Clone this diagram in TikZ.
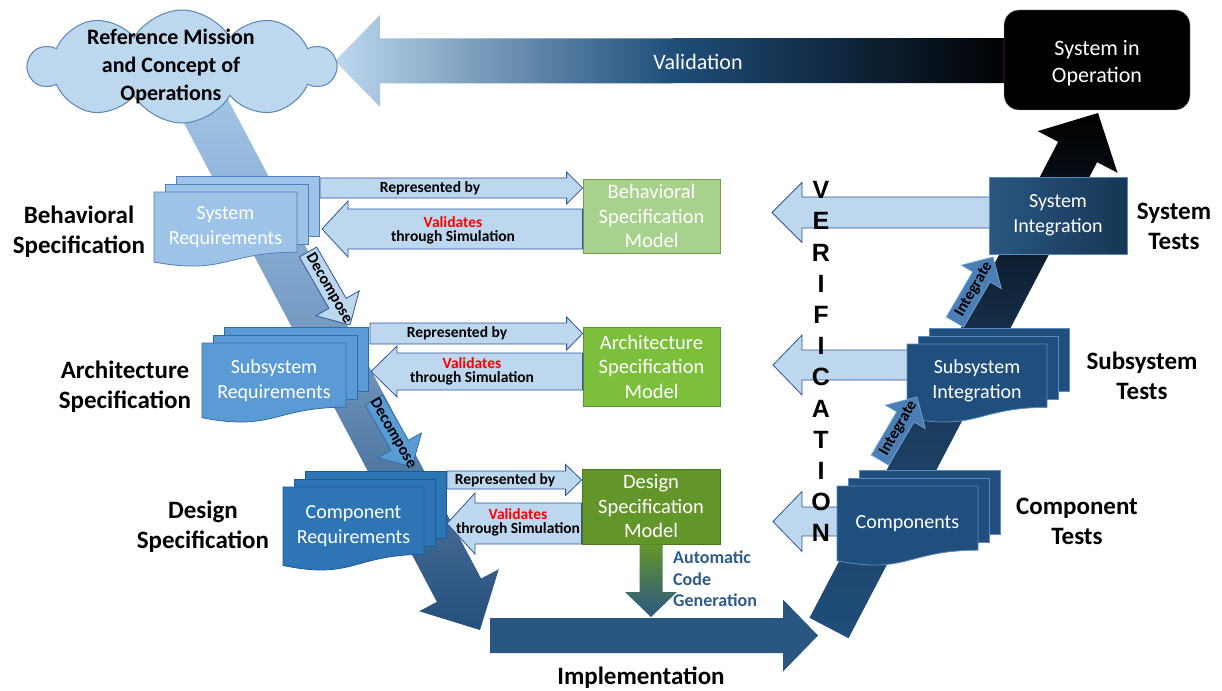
\documentclass[tikz,border=0pt]{standalone}
\usepackage{fontspec}
\setmainfont{Carlito}
\newfontfamily\verifont{Liberation Sans}
\usetikzlibrary{calc,shapes.symbols}

\definecolor{lightfill}{HTML}{BDD7EE}
\definecolor{lightline}{HTML}{2F5597}
\definecolor{cloudline}{HTML}{5A86B4}
\definecolor{reqA}{HTML}{9DC3E6}
\definecolor{reqAline}{HTML}{4F81BD}
\definecolor{reqB}{HTML}{5B9BD5}
\definecolor{reqBline}{HTML}{2E6DA8}
\definecolor{reqC}{HTML}{2E75B6}
\definecolor{reqCline}{HTML}{1F5A94}
\definecolor{modelA}{HTML}{A9D18E}
\definecolor{modelAline}{HTML}{70A04C}
\definecolor{modelB}{HTML}{7CBF3A}
\definecolor{modelBline}{HTML}{5E8F2C}
\definecolor{modelC}{HTML}{64952B}
\definecolor{modelCline}{HTML}{4D7420}
\definecolor{navy}{HTML}{1F4E79}
\definecolor{implblue}{HTML}{2A5682}
\definecolor{testdoc}{HTML}{214F7D}
\definecolor{testline}{HTML}{5A8AC0}
\definecolor{codegen}{HTML}{2E5C8A}
\definecolor{integfill}{HTML}{4A7EB5}
\definecolor{integline}{HTML}{6FA0D0}
\definecolor{bandtop}{HTML}{A3C5E7}
\definecolor{bandmid}{HTML}{6F95BE}
\definecolor{bandbot}{HTML}{254E7A}
\definecolor{rbandmid}{HTML}{1A3858}
\definecolor{cgbot}{HTML}{2B5783}

% block arrow from #2 (tail) to #3 (tip): #4 half shaft width, #5 half head width, #6 head length
\newcommand\blockarrow[6]{%
  \coordinate (ba-base) at ($(#3)!#6!(#2)$);
  \path[#1] ($(#2)!#4!90:(#3)$) -- ($(ba-base)!#4!90:(#3)$) -- ($(ba-base)!#5!90:(#3)$) -- (#3)
    -- ($(ba-base)!#5!-90:(#3)$) -- ($(ba-base)!#4!-90:(#3)$) -- ($(#2)!#4!-90:(#3)$) -- cycle;}

% stack of three pages, front page with wavy bottom: #1 name, #2 x, #3 y, #4 width, #5 height, #6 style, #7 text
\newcommand\docstack[7]{%
  \path[#6] (#2+22,#3-16) rectangle (#2+22+#4,#3-16+0.8*#5);
  \path[#6] (#2+11,#3-8) rectangle (#2+11+#4,#3-8+0.8*#5);
  \path[#6] (#2,#3) -- (#2+#4,#3) -- (#2+#4,#3+0.802*#5)
    .. controls (#2+0.5*#4,#3+0.802*#5) and (#2+0.5*#4,#3+1.108*#5) .. (#2,#3+0.934*#5) -- cycle;
  \node[boxtext] (#1) at (#2+0.5*#4,#3+0.47*#5) {#7};}

\tikzset{
  lightarrow/.style={fill=lightfill, draw=lightline, line width=0.8pt},
  docA/.style={fill=reqA, draw=reqAline, line width=0.8pt},
  docB/.style={fill=reqB, draw=reqBline, line width=0.8pt},
  docC/.style={fill=reqC, draw=reqCline, line width=0.8pt},
  docT/.style={fill=testdoc, draw=testline, line width=0.8pt},
  boxtext/.style={text=white, align=center, font=\fontsize{20}{25}\selectfont, inner sep=0pt},
  model/.style={minimum width=137pt, text=white, align=center, font=\fontsize{20.5}{24.5}\selectfont, line width=0.8pt, inner sep=0pt},
  reptext/.style={font=\bfseries\fontsize{15.5}{14}\selectfont, inner sep=0pt},
  valtext/.style={font=\bfseries\fontsize{15.5}{14}\selectfont, align=center, inner sep=0pt},
  arrowtext/.style={font=\bfseries\fontsize{16}{16}\selectfont, inner sep=0pt},
  lbl/.style={font=\bfseries\fontsize{25}{30}\selectfont, align=center, inner sep=0pt},
  verif/.style={font=\verifont\bfseries\fontsize{25}{25}\selectfont, inner sep=0pt},
}

\begin{document}
\begin{tikzpicture}[x=1pt,y=-1pt]
\fill[white] (0,0) rectangle (1222,690);
\useasboundingbox (0,0) rectangle (1222,690);

% validation arrow along the top
\coordinate (val-s) at (1012,60.5);
\coordinate (val-e) at (335,61);
\blockarrow{shade, left color=lightfill, right color=black, middle color=navy}{val-s}{val-e}{22.5pt}{46pt}{45pt}
\node[font=\fontsize{22}{24}\selectfont, text=white!92!lightfill] (valtxt) at (698,62) {Validation};

% the two legs of the V
\coordinate (lv-s) at (200,100);
\coordinate (lv-e) at (480,630);
\blockarrow{shade, top color=bandtop, bottom color=bandbot, middle color=bandmid}{lv-s}{lv-e}{25pt}{45pt}{45pt}
\coordinate (rv-s) at (829,628);
\coordinate (rv-e) at (1098,113);
\blockarrow{shade, top color=black, bottom color=navy, middle color=rbandmid}{rv-s}{rv-e}{22pt}{45pt}{44pt}

% implementation arrow
\coordinate (impl-s) at (490,635.5);
\coordinate (impl-e) at (818,635.5);
\blockarrow{fill=implblue}{impl-s}{impl-e}{17.5pt}{36pt}{35pt}
\node[lbl] (impltxt) at (641,678) {Implementation};

% mission cloud and operating system
\node[cloud, cloud puffs=10, cloud puff arc=120, cloud ignores aspect, minimum width=306pt, minimum height=113pt, fill=lightfill, draw=cloudline, line width=1pt] (cloud) at (182,66.5) {};
\node[font=\bfseries\fontsize{22}{28}\selectfont, align=center, inner sep=0pt] (cloudtxt) at (171,67) {Reference Mission\\and Concept of\\Operations};
\node[fill=black, draw=gray!70, rounded corners=15pt, minimum width=186pt, minimum height=100pt] (sio) at (1097,60) {};
\node[text=white, align=center, font=\fontsize{22}{27}\selectfont, inner sep=0pt] (siotxt) at (1097,63) {System in\\Operation};

% specification models
\node[model, fill=modelA, draw=modelAline, minimum height=74pt] (bsm) at (651.5,216) {Behavioral\\Specification\\Model};
\node[model, fill=modelB, draw=modelBline, minimum height=79pt] (asm) at (651.5,366.5) {Architecture\\Specification\\Model};
\node[model, fill=modelC, draw=modelCline, minimum height=75pt, minimum width=138pt] (dsm) at (651,506.5) {Design\\Specification\\Model};

% represented by / validates arrows
\coordinate (rep1-s) at (320,188);
\coordinate (rep1-e) at (bsm.west |- rep1-s);
\blockarrow{lightarrow}{rep1-s}{rep1-e}{10pt}{16pt}{16pt}
\node[reptext] at (430,188) {Represented by};
\coordinate (vld1-s) at ($(bsm.west)+(0,13)$);
\coordinate (vld1-e) at (322,229);
\blockarrow{lightarrow}{vld1-s}{vld1-e}{20pt}{28pt}{26pt}
\node[valtext] at (453,230) {\textcolor{red}{Validates}\\through Simulation};

\coordinate (rep2-s) at (370,333.5);
\coordinate (rep2-e) at (asm.west |- rep2-s);
\blockarrow{lightarrow}{rep2-s}{rep2-e}{10.5pt}{16.5pt}{16pt}
\node[reptext] at (457,333.5) {Represented by};
\coordinate (vld2-s) at ($(asm.west)+(0,5)$);
\coordinate (vld2-e) at (371,371.5);
\blockarrow{lightarrow}{vld2-s}{vld2-e}{18.5pt}{25.5pt}{26pt}
\node[valtext] at (472,371.5) {\textcolor{red}{Validates}\\through Simulation};

\coordinate (rep3-s) at (447,480);
\coordinate (rep3-e) at (dsm.west |- rep3-s);
\blockarrow{lightarrow}{rep3-s}{rep3-e}{9pt}{15.5pt}{16pt}
\node[reptext] at (505,480) {Represented by};
\coordinate (vld3-s) at ($(dsm.west)+(0,17)$);
\coordinate (vld3-e) at (447,523.5);
\blockarrow{lightarrow}{vld3-s}{vld3-e}{20.5pt}{30.5pt}{28pt}
\node[valtext] at (518,522.5) {\textcolor{red}{Validates}\\through Simulation};

% requirement documents
\docstack{sysreq}{154}{192}{143}{75}{docA}{System\\Requirements}
\docstack{subreq}{202}{343}{144}{80}{docB}{Subsystem\\Requirements}
\docstack{compreq}{283}{487}{141}{84}{docC}{Component\\Requirements}

% automatic code generation
\coordinate (cg-s) at (dsm.south);
\coordinate (cg-e) at (651,617);
\blockarrow{shade, top color=modelC, bottom color=cgbot}{cg-s}{cg-e}{11.5pt}{26pt}{25pt}
\node[font=\bfseries\fontsize{18}{21.5}\selectfont, text=codegen, align=left, anchor=west, inner sep=0pt] (cgtxt) at (673,579) {Automatic\\Code\\Generation};

% decompose arrows
\coordinate (dc1-s) at (308,252);
\coordinate (dc1-e) at (350,325);
\blockarrow{fill=lightfill, draw=lightline, line width=0.8pt}{dc1-s}{dc1-e}{10pt}{25pt}{25pt}
\node[arrowtext, rotate=-60] at ($(dc1-s)!0.5!(dc1-e)$) {Decompose};
\coordinate (dc2-s) at (374,400);
\coordinate (dc2-e) at (412,467);
\blockarrow{fill=reqB, draw=reqBline, line width=0.8pt}{dc2-s}{dc2-e}{10pt}{25pt}{25pt}
\node[arrowtext, rotate=-60] at ($(dc2-s)!0.5!(dc2-e)$) {Decompose};

% verification arrows
\coordinate (ver1-s) at (990,212.5);
\coordinate (ver1-e) at (772,212.5);
\blockarrow{lightarrow}{ver1-s}{ver1-e}{15.5pt}{30pt}{30pt}
\coordinate (ver2-s) at (909,365);
\coordinate (ver2-e) at (773,365);
\blockarrow{lightarrow}{ver2-s}{ver2-e}{15pt}{30pt}{29pt}
\coordinate (ver3-s) at (839,521.5);
\coordinate (ver3-e) at (773,521.5);
\blockarrow{lightarrow}{ver3-s}{ver3-e}{14.5pt}{30pt}{29pt}

% test side
\node[minimum width=138pt, minimum height=77pt, shade, left color=navy!95!white, right color=navy!70!black, draw=testline, line width=0.8pt, text=white, align=center, font=\fontsize{20}{25}\selectfont] (sysint) at (1058,215.5) {System\\Integration};
\docstack{subint}{907}{344}{140}{79}{docT}{Subsystem\\Integration}
\docstack{comps}{837}{486}{141}{80}{docT}{Components}

% integrate arrows
\coordinate (in1-s) at (880,460);
\coordinate (in1-e) at (917,397);
\blockarrow{fill=integfill, draw=integline, line width=0.8pt}{in1-s}{in1-e}{10pt}{23pt}{23pt}
\node[arrowtext, rotate=60] at ($(in1-s)!0.5!(in1-e)$) {Integrate};
\coordinate (in2-s) at (955,322);
\coordinate (in2-e) at (993,257);
\blockarrow{fill=integfill, draw=integline, line width=0.8pt}{in2-s}{in2-e}{10pt}{23pt}{23pt}
\node[arrowtext, rotate=60] at ($(in2-s)!0.5!(in2-e)$) {Integrate};

% vertical verification lettering
\foreach \ch [count=\i] in {V,E,R,I,F,I,C,A,T,I,O,N}
  \node[verif] (verif\i) at (821,{190+31.2*(\i-1)}) {\ch};

% level labels
\node[lbl] (lblbeh) at (79,232) {Behavioral\\Specification};
\node[lbl] (lblarch) at (125,387) {Architecture\\Specification};
\node[lbl] (lbldes) at (203,527) {Design\\Specification};
\node[lbl] (lblsys) at (1174,226) {System\\Tests};
\node[lbl] (lblsub) at (1142,376) {Subsystem\\Tests};
\node[lbl] (lblcomp) at (1077,521) {Component\\Tests};
\end{tikzpicture}
\end{document}
